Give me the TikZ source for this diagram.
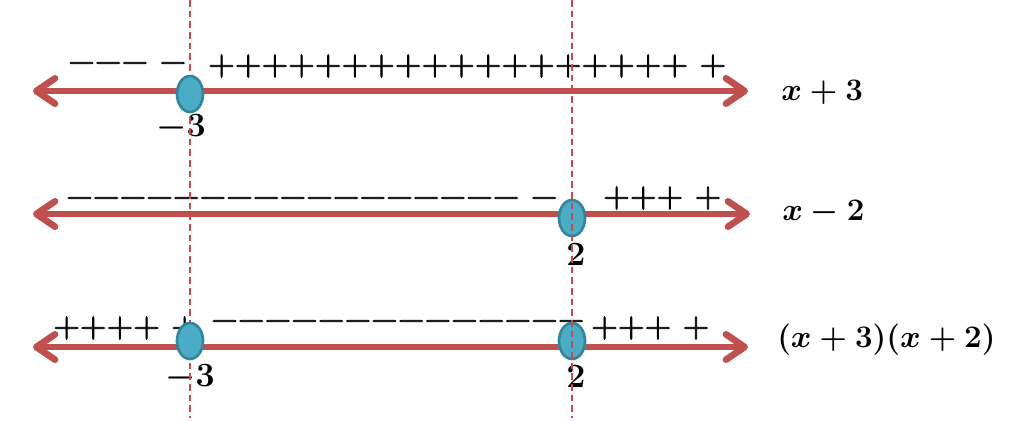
\RequirePackage{fix-cm}
\documentclass[tikz,border=0pt]{standalone}
\usepackage{fontspec}
\newfontfamily\signfont[FakeBold=2.2]{lmroman10-regular.otf}
\usetikzlibrary{arrows.meta,shapes.geometric}
\definecolor{axred}{HTML}{C0504D}
\definecolor{guidered}{HTML}{C84B4B}
\definecolor{dotfill}{HTML}{4BACC6}
\definecolor{dotedge}{HTML}{31859C}
\begin{document}
\begin{tikzpicture}[x=0.75pt,y=-0.75pt,
  numline/.style={draw=axred,line width=5pt,
    {Straight Barb[length=14pt,width=19pt,round]}-{Straight Barb[length=14pt,width=19pt,round]}},
  dot/.style={ellipse,draw=dotedge,fill=dotfill,line width=2pt,
    minimum width=19.5pt,minimum height=27pt,inner sep=0pt},
  guide/.style={draw=guidered,line width=0.9pt,dash pattern=on 5pt off 3pt},
  signs/.style={inner sep=0pt,anchor=base west,font=\signfont\fontsize{25.7}{30}\selectfont},
  tick/.style={inner sep=0pt,anchor=base,font=\fontsize{25.5}{30}\selectfont\boldmath},
  expr/.style={inner sep=0pt,anchor=base west,font=\fontsize{23.5}{27}\selectfont\boldmath}]
\useasboundingbox[fill=white] (0,0) rectangle (1022,421);

% end points of the three number lines
\coordinate (l1) at (33,91);  \coordinate (r1) at (748,91);
\coordinate (l2) at (33,214); \coordinate (r2) at (750,214);
\coordinate (l3) at (33,347); \coordinate (r3) at (748,347);
% guide line ends
\coordinate (ga) at (190,0); \coordinate (gb) at (190,418);
\coordinate (gc) at (572,0); \coordinate (gd) at (572,418);

\draw[numline] (l1) -- (r1);
\draw[numline] (l2) -- (r2);
\draw[numline] (l3) -- (r3);

% sign rows
\node[signs] (s1m) at (68,71.6) {−−− −};
\node[signs] (s1p) at (208,74.6) {++++++++++++++++++ +};
\node[signs] (s2m) at (66,206.6) {−−−−−−−−−−−−−−−−− −};
\node[signs] (s2p) at (603,206.6) {+++ +};
\node[signs] (s3a) at (53,336.6) {++++ +};
\node[signs] (s3m) at (211,329.6) {−−−−−−−−−−−−−−};
\node[signs] (s3b) at (591,336.6) {+++ +};

% value labels
\node[tick] (t1) at (181,136) {$-3$};
\node[tick] (t2) at (576,265) {$2$};
\node[tick] (t3) at (190,386) {$-3$};
\node[tick] (t4) at (576,387) {$2$};

% expressions
\node[expr] (e1) at (781,100) {$x+3$};
\node[expr] (e2) at (782,220) {$x-2$};
\node[expr] (e3) at (777,347) {$(x+3)(x+2)$};

\draw[guide] (ga) -- (gb);
\node[dot] (d1) at (190,94) {};
\node[dot] (d2) at (572,218) {};
\node[dot] (d3) at (190,341) {};
\node[dot] (d4) at (572,341) {};
\draw[guide] (gc) -- (gd);
\end{tikzpicture}
\end{document}
